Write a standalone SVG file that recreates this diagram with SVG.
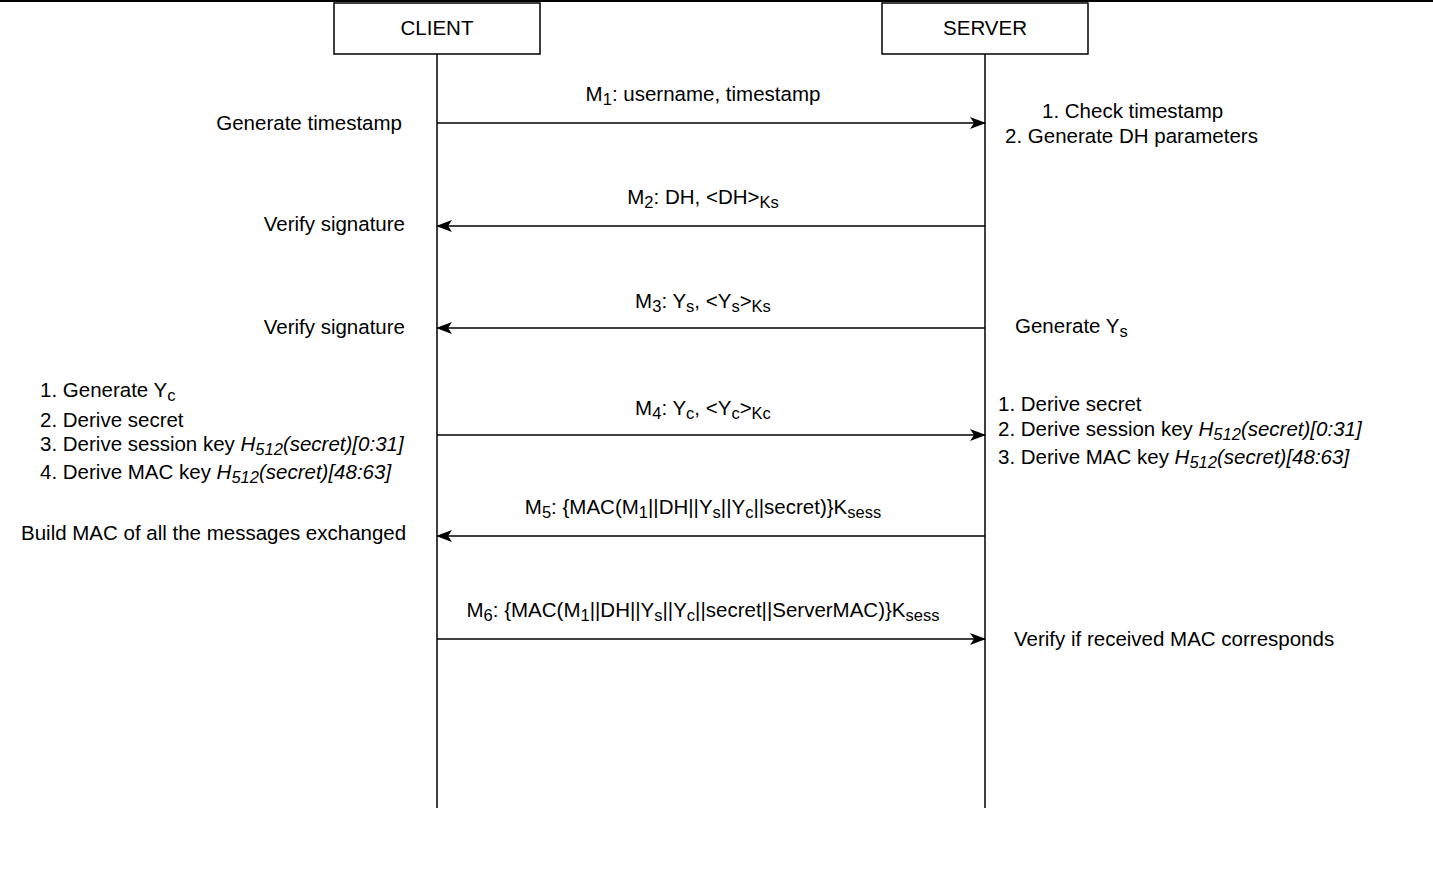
<svg xmlns="http://www.w3.org/2000/svg" width="1433" height="881" viewBox="0 0 1433 881">
<defs>
<style>
text{font-family:"Liberation Sans",Arial,sans-serif;font-size:20.5px;fill:#000}
.box{fill:#fff;stroke:#000;stroke-width:1.5}
.life{stroke:#000;stroke-width:1.5;fill:none}
.msg{stroke:#000;stroke-width:1.5;fill:none;marker-end:url(#arr)}
.i{font-style:italic}
.s{font-size:16.5px}
</style>
<marker id="arr" viewBox="0 0 16 12" refX="15" refY="6" markerWidth="16" markerHeight="12" markerUnits="userSpaceOnUse" orient="auto">
<path d="M0,0 L16,6 L0,12 L4,6 Z" fill="#000"/>
</marker>
</defs>
<rect width="1433" height="881" fill="#fff"/>
<line x1="0" y1="1" x2="1433" y2="1" stroke="#000" stroke-width="2"/>
<g id="client">
<rect class="box" x="334" y="3" width="206" height="51"/>
<text x="437" y="35" text-anchor="middle">CLIENT</text>
<line class="life" x1="437" y1="54" x2="437" y2="808"/>
</g>
<g id="server">
<rect class="box" x="882" y="3" width="206" height="51"/>
<text x="985" y="35" text-anchor="middle">SERVER</text>
<line class="life" x1="985" y1="54" x2="985" y2="808"/>
</g>
<g id="connectors">
<line class="msg" x1="437" y1="123" x2="985" y2="123"/>
<line class="msg" x1="985" y1="226" x2="437" y2="226"/>
<line class="msg" x1="985" y1="328" x2="437" y2="328"/>
<line class="msg" x1="437" y1="435" x2="985" y2="435"/>
<line class="msg" x1="985" y1="536" x2="437" y2="536"/>
<line class="msg" x1="437" y1="639" x2="985" y2="639"/>
</g>
<g id="labels">
<text x="703" y="101" text-anchor="middle">M<tspan class="s" dy="4">1</tspan><tspan dy="-4">: username, timestamp</tspan></text>
<text x="703" y="204" text-anchor="middle">M<tspan class="s" dy="4">2</tspan><tspan dy="-4">: DH, &lt;DH&gt;</tspan><tspan class="s" dy="4">Ks</tspan></text>
<text x="703" y="308" text-anchor="middle">M<tspan class="s" dy="4">3</tspan><tspan dy="-4">: Y</tspan><tspan class="s" dy="4">s</tspan><tspan dy="-4">, &lt;Y</tspan><tspan class="s" dy="4">s</tspan><tspan dy="-4">&gt;</tspan><tspan class="s" dy="4">Ks</tspan></text>
<text x="703" y="415" text-anchor="middle">M<tspan class="s" dy="4">4</tspan><tspan dy="-4">: Y</tspan><tspan class="s" dy="4">c</tspan><tspan dy="-4">, &lt;Y</tspan><tspan class="s" dy="4">c</tspan><tspan dy="-4">&gt;</tspan><tspan class="s" dy="4">Kc</tspan></text>
<text x="703" y="514" text-anchor="middle">M<tspan class="s" dy="4">5</tspan><tspan dy="-4">: {MAC(M</tspan><tspan class="s" dy="4">1</tspan><tspan dy="-4">||DH||Y</tspan><tspan class="s" dy="4">s</tspan><tspan dy="-4">||Y</tspan><tspan class="s" dy="4">c</tspan><tspan dy="-4">||secret)}K</tspan><tspan class="s" dy="4">sess</tspan></text>
<text x="703" y="617" text-anchor="middle">M<tspan class="s" dy="4">6</tspan><tspan dy="-4">: {MAC(M</tspan><tspan class="s" dy="4">1</tspan><tspan dy="-4">||DH||Y</tspan><tspan class="s" dy="4">s</tspan><tspan dy="-4">||Y</tspan><tspan class="s" dy="4">c</tspan><tspan dy="-4">||secret||ServerMAC)}K</tspan><tspan class="s" dy="4">sess</tspan></text>
</g>
<g id="client-notes">
<text x="402" y="130" text-anchor="end">Generate timestamp</text>
<text x="405" y="231" text-anchor="end">Verify signature</text>
<text x="405" y="334" text-anchor="end">Verify signature</text>
<text x="40" y="397">1. Generate Y<tspan class="s" dy="4">c</tspan></text>
<text x="40" y="427">2. Derive secret</text>
<text x="40" y="451">3. Derive session key <tspan class="i">H</tspan><tspan class="i s" dy="4">512</tspan><tspan class="i" dy="-4">(secret)[0:31]</tspan></text>
<text x="40" y="479">4. Derive MAC key <tspan class="i">H</tspan><tspan class="i s" dy="4">512</tspan><tspan class="i" dy="-4">(secret)[48:63]</tspan></text>
<text x="21" y="540">Build MAC of all the messages exchanged</text>
</g>
<g id="server-notes">
<text x="1042" y="118">1. Check timestamp</text>
<text x="1005" y="143">2. Generate DH parameters</text>
<text x="1015" y="333">Generate Y<tspan class="s" dy="4">s</tspan></text>
<text x="998" y="411">1. Derive secret</text>
<text x="998" y="436">2. Derive session key <tspan class="i">H</tspan><tspan class="i s" dy="4">512</tspan><tspan class="i" dy="-4">(secret)[0:31]</tspan></text>
<text x="998" y="464">3. Derive MAC key <tspan class="i">H</tspan><tspan class="i s" dy="4">512</tspan><tspan class="i" dy="-4">(secret)[48:63]</tspan></text>
<text x="1014" y="646">Verify if received MAC corresponds</text>
</g>
</svg>
